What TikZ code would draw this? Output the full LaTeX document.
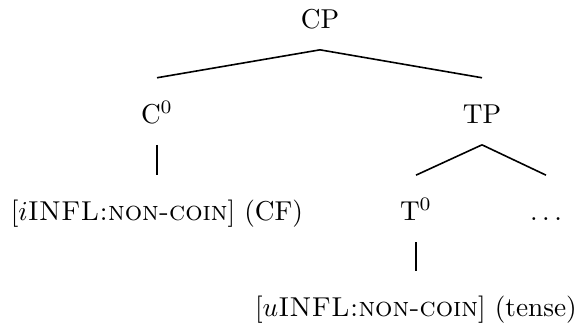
\documentclass[tikz,border=0pt]{standalone}
\usetikzlibrary{positioning}

\begin{document}
\begin{tikzpicture}[
    x=0.5pt, y=-0.5pt,
    cat/.style={
        anchor=base, scale=1.365,
        font=\fontsize{10}{12}\selectfont,
        inner xsep=0pt, inner ysep=7.69pt,
        text height=8.79pt, text depth=0pt,
    },
    branch/.style={line width=0.8pt},
]
\useasboundingbox (0, 0) rectangle (577, 325);

% column x-positions and row baselines (picture units)
\def\ccp{320}
\def\cc{157}
\def\ctp{482}
\def\ct{416}
\def\cdots{546}
\def\ra{28.3}
\def\rb{123.3}
\def\rc{220.7}
\def\rd{316.5}

% =============== Nodes ===============
\node[cat] (cp)   at (\ccp, \ra) {CP};
\node[cat] (c0)   at (\cc, \rb)  {C$^0$};
\node[cat] (tp)   at (\ctp, \rb) {TP};
\node[cat] (cf)   at (\cc, \rc)
    {$[i$\textsc{INFL:non-coin}$]$ (CF)};
\node[cat] (t0)   at (\ct, \rc)  {T$^0$};
\node[cat] (dots) at (\cdots, \rc) {$\dots$};
\node[cat] (tns)  at (\ct, \rd)
    {$[u$\textsc{INFL:non-coin}$]$ (tense)};

% =============== Branches ===============
\draw[branch] (cp.south) -- (c0.north);
\draw[branch] (cp.south) -- (tp.north);
\draw[branch] (c0.south) -- (cf.north);
\draw[branch] (tp.south) -- (t0.north);
\draw[branch] (tp.south) -- (dots.north);
\draw[branch] (t0.south) -- (tns.north);

\end{tikzpicture}
\end{document}
